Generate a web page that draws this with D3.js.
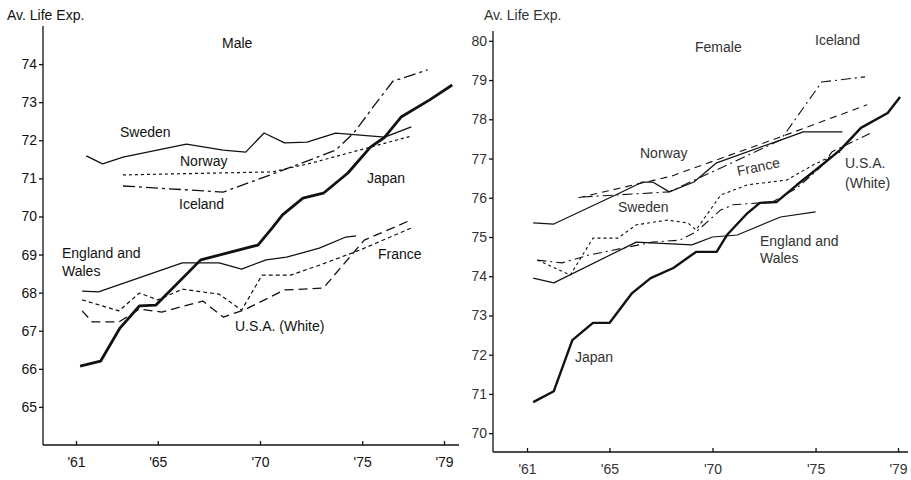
<!DOCTYPE html>
<html><head><meta charset="utf-8">
<script src="https://cdn.jsdelivr.net/npm/d3@7/dist/d3.min.js"></script>
<style>body{margin:0;background:#fff}text{font-family:"Liberation Sans",Arial,sans-serif}</style>
</head><body><svg id="c" width="911" height="480"></svg>
<script>
// ---------- data ----------
const tickYears = [61, 65, 70, 75, 79];
const tickYearLabels = ["'61", "'65", "'70", "'75", "'79"];
const maleTicks = [65, 66, 67, 68, 69, 70, 71, 72, 73, 74];
const femaleTicks = [70, 71, 72, 73, 74, 75, 76, 77, 78, 79, 80];

// Male: [year, life expectancy]
const maleJapan = [[61.2,66.07],[62.2,66.20],[63.15,67.07],[64.1,67.65],[64.9,67.67],[67.1,68.86],[69.9,69.25],[70.6,69.70],[71.1,70.04],[72.1,70.48],[73.1,70.61],[74.3,71.14],[75.4,71.82],[76.1,72.08],[76.9,72.61],[78.3,73.06],[79.4,73.45]];
const maleSweden = [[61.5,71.59],[62.3,71.38],[63.3,71.56],[66.4,71.90],[68.2,71.74],[69.3,71.69],[70.2,72.19],[71.2,71.93],[72.3,71.95],[73.7,72.19],[76.1,72.08],[77.4,72.35]];
const maleNorway = [[63.3,71.09],[70.6,71.17],[72.5,71.40],[77.4,72.11]];
const maleIceland = [[63.3,70.80],[68.2,70.64],[71.0,71.19],[73.7,71.74],[74.6,72.20],[75.6,72.92],[76.5,73.55],[78.2,73.85]];
const maleEngland = [[61.3,68.04],[62.1,68.02],[66.2,68.78],[68.0,68.78],[69.1,68.62],[70.3,68.86],[71.3,68.93],[72.9,69.17],[74.2,69.46],[74.7,69.49]];
const maleFrance = [[61.3,67.81],[63.1,67.52],[64.1,67.99],[65.0,67.81],[66.2,68.09],[68.0,67.96],[69.1,67.54],[70.1,68.46],[71.5,68.46],[72.9,68.72],[74.9,69.12],[77.5,69.72]];
const maleUSA = [[61.3,67.52],[61.8,67.23],[63.1,67.23],[64.1,67.57],[65.2,67.49],[67.2,67.78],[68.2,67.36],[69.2,67.54],[71.2,68.07],[73.1,68.12],[75.1,69.38],[77.4,69.91]];

// Female
const femaleJapan = [[61.3,70.79],[62.3,71.07],[63.2,72.37],[64.2,72.81],[65.0,72.81],[66.1,73.57],[67.0,73.95],[68.1,74.21],[69.2,74.62],[70.2,74.62],[70.7,75.05],[71.7,75.61],[72.3,75.87],[73.1,75.89],[74.1,76.33],[75.2,76.79],[76.2,77.22],[77.2,77.78],[78.5,78.16],[79.1,78.57]];
const femaleSweden = [[61.3,75.36],[62.3,75.33],[65.5,76.12],[66.6,76.40],[67.1,76.40],[67.9,76.15],[69.1,76.40],[70.2,76.89],[73.3,77.47],[74.4,77.68],[76.3,77.68]];
const femaleNorway = [[63.5,76.00],[68.0,76.55],[73.3,77.55],[77.5,78.37]];
const femaleIceland = [[63.7,76.02],[67.9,76.15],[73.3,77.47],[75.3,78.95],[77.4,79.08]];
const femaleEngland = [[61.3,73.95],[62.3,73.83],[66.3,74.87],[69.0,74.80],[70.0,75.00],[71.2,75.05],[73.3,75.51],[75.0,75.64]];
const femaleFrance = [[61.5,74.41],[63.1,74.03],[64.2,74.97],[65.4,74.97],[66.3,75.31],[67.8,75.43],[68.8,75.36],[69.2,75.18],[70.4,76.07],[71.7,76.33],[73.6,76.45],[74.9,76.84],[76.2,77.17]];
const femaleUSA = [[61.5,74.41],[62.7,74.34],[64.0,74.54],[67.1,74.87],[68.4,74.92],[69.2,75.13],[70.4,75.69],[71.0,75.82],[72.9,75.89],[74.1,76.25],[75.2,76.76],[75.8,77.17],[77.8,77.68]];

// ---------- drawing ----------
const svg = d3.select('#c');
const ink = '#111';

function panel(cfg) {
  const g = svg.append('g');
  const x = d3.scaleLinear().domain([61, 79]).range(cfg.xr);
  const y = d3.scaleLinear().domain(cfg.yd).range(cfg.yr);
  const yAxis = d3.axisLeft(y).tickValues(cfg.yTicks).tickFormat(d3.format('d'))
    .tickSize(4).tickSizeOuter(0).tickPadding(2);
  const ya = g.append('g').attr('transform', `translate(${cfg.axisX},0)`).call(yAxis);
  const xAxis = d3.axisBottom(x).tickValues(tickYears)
    .tickFormat((d, i) => tickYearLabels[i]).tickSize(-4).tickSizeOuter(0).tickPadding(12);
  const xa = g.append('g').attr('transform', `translate(0,${cfg.axisY})`).call(xAxis);
  xa.select('.domain').attr('d', `M${cfg.axisX},0H${cfg.xEnd}`);
  ya.select('.domain').attr('d', `M0,${cfg.yr[1]}V${cfg.axisY}`);
  [ya, xa].forEach(a => {
    a.selectAll('.domain,line').attr('stroke', ink).attr('stroke-width', 1.3);
    a.selectAll('text').attr('fill', cfg.textFill).attr('font-size', 14);
  });
  const line = d3.line().x(d => x(d[0])).y(d => y(d[1]));
  cfg.series.forEach(s => {
    g.append('path').datum(s.data).attr('d', line)
      .attr('fill', 'none').attr('stroke', ink)
      .attr('stroke-width', s.w).attr('stroke-dasharray', s.dash || null)
      .attr('stroke-linejoin', 'round');
  });
  cfg.labels.forEach(l => {
    g.append('text').attr('x', l.x).attr('y', l.y).text(l.t)
      .attr('font-size', l.fs || 14).attr('fill', cfg.textFill)
      .attr('transform', l.rot ? `rotate(${l.rot},${l.x},${l.y})` : null);
  });
}

panel({
  xr: [76, 444], yd: [64, 75], yr: [445, 26], axisX: 43, axisY: 445, xEnd: 459,
  yTicks: maleTicks, textFill: '#111',
  series: [
    {data: maleSweden, w: 1.3},
    {data: maleEngland, w: 1.3},
    {data: maleNorway, w: 1.2, dash: '3,3'},
    {data: maleIceland, w: 1.3, dash: '12,4,3,4'},
    {data: maleFrance, w: 1.2, dash: '4,3'},
    {data: maleUSA, w: 1.3, dash: '9,5'},
    {data: maleJapan, w: 2.8}
  ],
  labels: [
    {t: 'Av. Life Exp.', x: 7, y: 20},
    {t: 'Male', x: 222, y: 48},
    {t: 'Sweden', x: 120, y: 137},
    {t: 'Norway', x: 180, y: 166},
    {t: 'Japan', x: 367, y: 183},
    {t: 'Iceland', x: 179, y: 209},
    {t: 'England and', x: 62, y: 258},
    {t: 'Wales', x: 62, y: 276},
    {t: 'France', x: 378, y: 259},
    {t: 'U.S.A. (White)', x: 235, y: 331}
  ]
});

panel({
  xr: [527, 898], yd: [69.52, 80.25], yr: [452, 31], axisX: 493, axisY: 452, xEnd: 908,
  yTicks: femaleTicks, textFill: '#333',
  series: [
    {data: femaleSweden, w: 1.2},
    {data: femaleEngland, w: 1.2},
    {data: femaleNorway, w: 1.1, dash: '7,5'},
    {data: femaleIceland, w: 1.1, dash: '10,4,2,4'},
    {data: femaleFrance, w: 1.1, dash: '3,3'},
    {data: femaleUSA, w: 1.1, dash: '9,4,2,4'},
    {data: femaleJapan, w: 2.4}
  ],
  labels: [
    {t: 'Av. Life Exp.', x: 484, y: 20},
    {t: 'Female', x: 695, y: 52},
    {t: 'Iceland', x: 815, y: 45},
    {t: 'Norway', x: 640, y: 158},
    {t: 'France', x: 738, y: 176, rot: -12},
    {t: 'U.S.A.', x: 845, y: 168},
    {t: '(White)', x: 845, y: 188},
    {t: 'Sweden', x: 618, y: 212},
    {t: 'England and', x: 760, y: 246},
    {t: 'Wales', x: 760, y: 263},
    {t: 'Japan', x: 575, y: 362}
  ]
});
</script></body></html>
